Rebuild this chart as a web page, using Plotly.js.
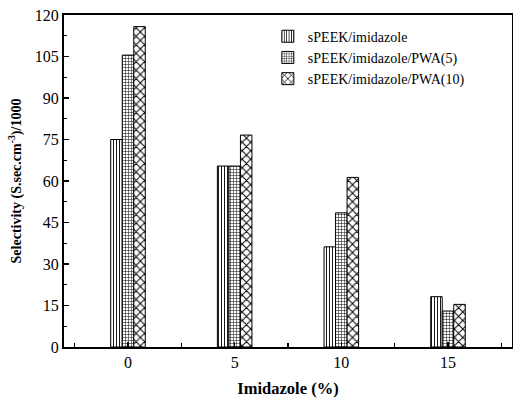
<!DOCTYPE html>
<html>
<head>
<meta charset="utf-8">
<script src="https://cdn.plot.ly/plotly-3.0.1.min.js"></script>
<style>html,body{margin:0;padding:0;background:#fff;}#chart{width:513px;height:401px;}</style>
</head>
<body>
<div id="chart"></div>
<script>
var imidazole = [0, 5, 10, 15];
var seriesNames = ["sPEEK/imidazole", "sPEEK/imidazole/PWA(5)", "sPEEK/imidazole/PWA(10)"];
var sPEEK_imidazole = [75.0, 65.4, 36.2, 18.2];
var sPEEK_imidazole_PWA5 = [105.5, 65.4, 48.5, 13.0];
var sPEEK_imidazole_PWA10 = [115.8, 76.6, 61.3, 15.4];
var yTicks = [0, 15, 30, 45, 60, 75, 90, 105, 120];

var F = "Liberation Serif, Times New Roman, serif";
function bar(name, vals, shape, size) {
  return {
    type: "bar", name: name, x: imidazole, y: vals,
    marker: {
      color: "#ffffff",
      line: {color: "#000000", width: 1},
      pattern: {shape: shape, fgcolor: "#000000", bgcolor: "#ffffff", size: size, solidity: 0.3}
    }
  };
}
var data = [
  bar(seriesNames[0], sPEEK_imidazole, "|", 3),
  bar(seriesNames[1], sPEEK_imidazole_PWA5, "+", 3),
  bar(seriesNames[2], sPEEK_imidazole_PWA10, "x", 6)
];
var layout = {
  width: 513, height: 401,
  margin: {l: 64, r: 1, t: 15, b: 54},
  paper_bgcolor: "#ffffff", plot_bgcolor: "#ffffff",
  font: {family: F, size: 16, color: "#000000"},
  barmode: "group", bargap: 0.676, bargroupgap: 0,
  showlegend: true,
  legend: {x: 0.455, y: 0.983, xanchor: "left", yanchor: "top", bgcolor: "rgba(0,0,0,0)",
           font: {family: F, size: 14, color: "#000000"}, tracegroupgap: 0},
  xaxis: {
    range: [-3, 18], tickmode: "array", tickvals: imidazole, ticktext: imidazole.map(String),
    ticks: "inside", ticklen: 5, tickwidth: 1.2, tickcolor: "#000",
    minor: {ticks: "inside", tick0: 2.5, dtick: 5, ticklen: 4, tickcolor: "#000"},
    showline: true, linecolor: "#000", linewidth: 2, mirror: true,
    showgrid: false, zeroline: false,
    tickfont: {family: F, size: 16},
    title: {text: "<b>Imidazole (%)</b>", font: {family: F, size: 16.5}, standoff: 12}
  },
  yaxis: {
    range: [0, 120], tickmode: "array", tickvals: yTicks, ticktext: yTicks.map(String),
    ticks: "inside", ticklen: 5, tickwidth: 1.2, tickcolor: "#000",
    minor: {ticks: "inside", tick0: 7.5, dtick: 15, ticklen: 3, tickcolor: "#000"},
    showline: true, linecolor: "#000", linewidth: 2, mirror: true,
    showgrid: false, zeroline: false,
    tickfont: {family: F, size: 16},
    title: {text: "<b>Selectivity (S.sec.cm<sup>-3</sup>)/1000</b>", font: {family: F, size: 14}, standoff: 10}
  }
};
Plotly.newPlot("chart", data, layout, {displayModeBar: false, staticPlot: true});
</script>
</body>
</html>
